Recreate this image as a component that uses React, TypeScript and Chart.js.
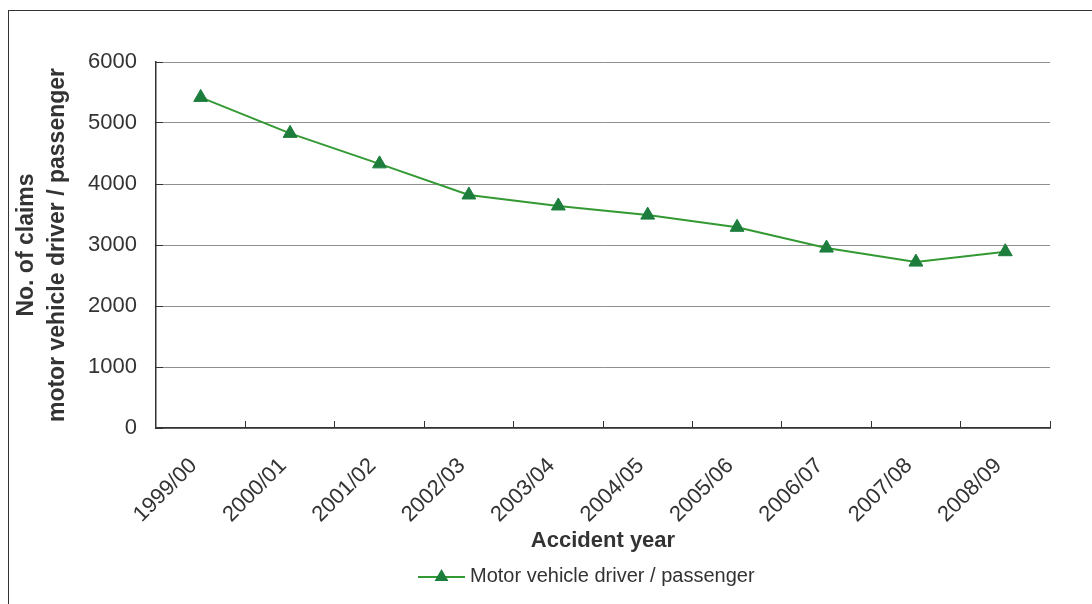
import React, { useEffect, useRef } from "react";
import { Chart, registerables } from "chart.js";

Chart.register(...registerables);

const categories = [
  "1999/00", "2000/01", "2001/02", "2002/03", "2003/04",
  "2004/05", "2005/06", "2006/07", "2007/08", "2008/09",
];
const claims = [5420, 4830, 4330, 3820, 3640, 3490, 3290, 2950, 2720, 2890];
const seriesLabel = "Motor vehicle driver / passenger";
const yTitle = ["No. of claims", "motor vehicle driver / passenger"];
const xTitle = "Accident year";

const FONT = "'Liberation Sans', Arial, sans-serif";
const TEXT = "#333333";
const LINE_COLOR = "#339933";
const MARKER_COLOR = "#1c7d3c";

const legendPlugin = {
  id: "lineLegend",
  afterDraw(chart: any) {
    const ctx = chart.ctx;
    const ds = chart.data.datasets[0];
    const y = 577;
    const x0 = 418;
    const x1 = 465;
    ctx.save();
    ctx.strokeStyle = ds.borderColor;
    ctx.lineWidth = 2;
    ctx.beginPath();
    ctx.moveTo(x0, y);
    ctx.lineTo(x1, y);
    ctx.stroke();
    const cx = (x0 + x1) / 2;
    const r = 8;
    ctx.fillStyle = ds.pointBackgroundColor;
    ctx.beginPath();
    ctx.moveTo(cx, y - r);
    ctx.lineTo(cx + r * 0.866, y + r / 2);
    ctx.lineTo(cx - r * 0.866, y + r / 2);
    ctx.closePath();
    ctx.fill();
    ctx.fillStyle = TEXT;
    ctx.font = `20px ${FONT}`;
    ctx.textAlign = "left";
    ctx.textBaseline = "middle";
    ctx.fillText(ds.label, x1 + 5, y - 1);
    ctx.restore();
  },
};

export default function App() {
  const canvasRef = useRef<HTMLCanvasElement | null>(null);

  useEffect(() => {
    if (!canvasRef.current) return;
    const chart = new Chart(canvasRef.current, {
      type: "line",
      data: {
        labels: categories,
        datasets: [
          {
            label: seriesLabel,
            data: claims,
            borderColor: LINE_COLOR,
            borderWidth: 2,
            pointStyle: "triangle",
            pointRadius: 8,
            pointBackgroundColor: MARKER_COLOR,
            pointBorderColor: MARKER_COLOR,
            pointBorderWidth: 1,
            tension: 0,
            fill: false,
          },
        ],
      },
      options: {
        responsive: false,
        animation: false,
        layout: { padding: { left: 0, right: 42, top: 62, bottom: 48 } },
        plugins: {
          legend: { display: false },
          tooltip: { enabled: false },
          title: { display: false },
        },
        scales: {
          x: {
            type: "category",
            offset: true,
            grid: {
              offset: true,
              drawOnChartArea: false,
              drawTicks: true,
              tickLength: -7,
              tickColor: "#333333",
              tickWidth: 1,
            },
            border: { display: true, color: "#333333", width: 1.5 },
            ticks: {
              autoSkip: false,
              maxRotation: 45,
              minRotation: 45,
              padding: 32,
              labelOffset: -7,
              color: TEXT,
              font: { family: FONT, size: 22 },
            },
            title: {
              display: true,
              text: xTitle,
              color: TEXT,
              font: { family: FONT, size: 22, weight: "bold" },
              padding: { top: 4, bottom: 2 },
            },
            afterFit(scale: any) {
              scale.height = 128;
            },
          },
          y: {
            min: 0,
            max: 6000,
            ticks: {
              stepSize: 1000,
              padding: 26,
              color: TEXT,
              font: { family: FONT, size: 22 },
              callback: (v: any) => String(v),
            },
            grid: {
              color: "#8f8f8f",
              lineWidth: 1,
              drawTicks: true,
              tickLength: -7,
              tickColor: "#333333",
            },
            border: { display: true, color: "#333333", width: 1.5 },
            title: {
              display: true,
              text: yTitle,
              color: TEXT,
              font: { family: FONT, size: 23, weight: "bold", lineHeight: 1.35 },
              padding: { top: 11, bottom: 0 },
            },
            afterFit(scale: any) {
              scale.width = 156;
            },
          },
        },
      },
      plugins: [legendPlugin],
    });
    return () => chart.destroy();
  }, []);

  return (
    <div
      style={{
        position: "fixed",
        left: 0,
        top: 0,
        width: 1092,
        height: 604,
        background: "#ffffff",
        overflow: "hidden",
      }}
    >
      <div
        style={{
          position: "absolute",
          left: 8,
          top: 10,
          width: 1200,
          height: 700,
          borderTop: "1.5px solid #333",
          borderLeft: "1.5px solid #333",
        }}
      />
      <canvas
        ref={canvasRef}
        width={1092}
        height={604}
        style={{ position: "absolute", left: 0, top: 0, display: "block" }}
      />
    </div>
  );
}
